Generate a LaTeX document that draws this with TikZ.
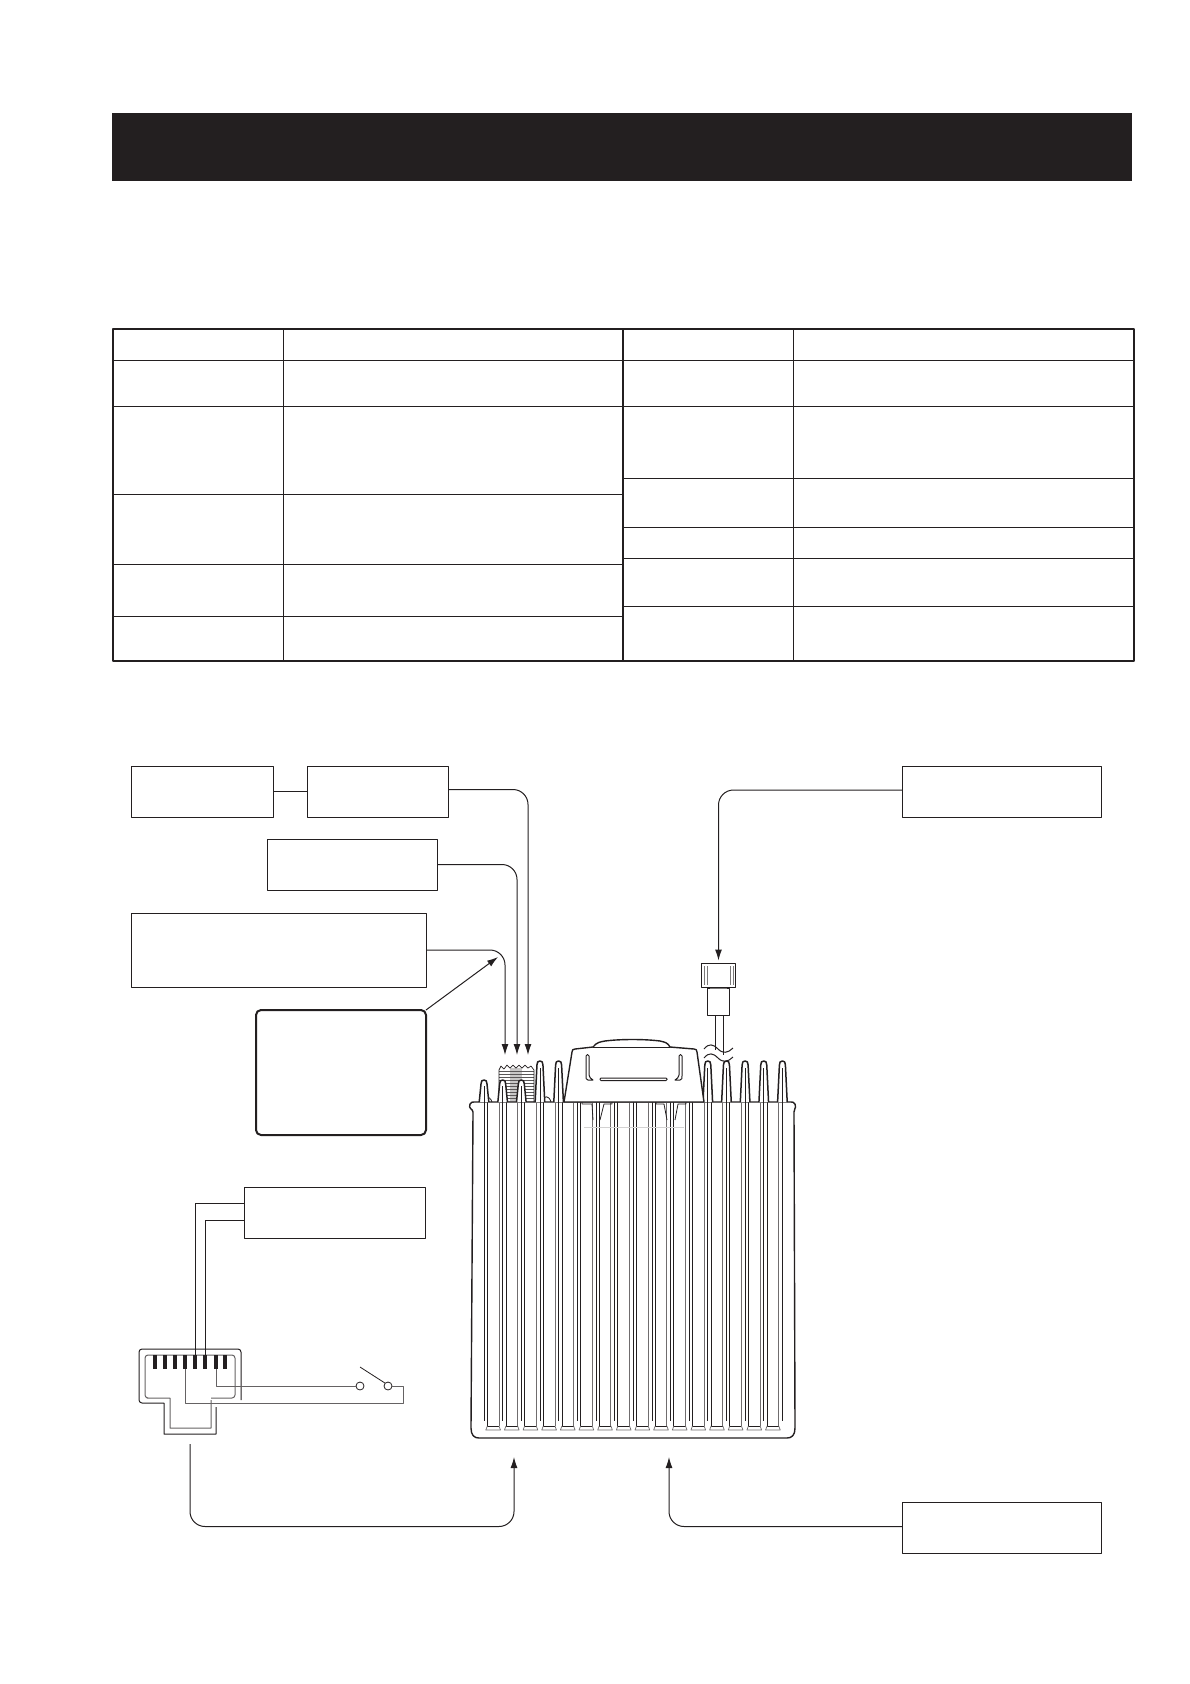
\documentclass[tikz,border=0pt]{standalone}
\usepackage{tikz}
\usetikzlibrary{arrows.meta}
\definecolor{ink}{HTML}{231F20}

\begin{document}
\begin{tikzpicture}[x=1pt,y=-1pt,line join=round]
\tikzstyle{every node}+=[inner sep=0pt,outer sep=0pt]
\tikzstyle{box}=[draw=ink,line width=1pt,minimum width=#1,fill=white]
\tikzstyle{wire}=[draw=ink,line width=1pt]
\tikzstyle{wirearrow}=[wire,-{Latex[length=11pt,width=7pt]},rounded corners=15pt]
\tikzstyle{greywire}=[draw=ink!70,line width=1pt]
\tikzstyle{pinbox}=[fill=ink,minimum width=4pt,minimum height=14pt]
\tikzstyle{swpin}=[circle,draw=ink,line width=0.8pt,fill=white,minimum size=8pt]
\tikzstyle{grid}=[draw=ink,line width=1pt]
\tikzstyle{shell}=[draw=ink,line width=1.4pt,fill=white]
\useasboundingbox (0,0) rectangle (1190,1684);

% heading bar
\fill [ink] (112,113) rectangle (1132,181);

% table
\draw [grid,line width=1.6pt] (113,329) rectangle (1134,661);
\draw [grid] (283,329) -- (283,661);
\draw [grid,line width=1.4pt] (623,329) -- (623,661);
\draw [grid] (793.5,329) -- (793.5,661);
\draw [grid] (113,360) -- (1134,360);
\draw [grid] (113,406) -- (1134,406);
\draw [grid] (113,494) -- (623,494);
\draw [grid] (113,564) -- (623,564);
\draw [grid] (113,616) -- (623,616);
\draw [grid] (623,478) -- (1134,478);
\draw [grid] (623,527) -- (1134,527);
\draw [grid] (623,558) -- (1134,558);
\draw [grid] (623,606) -- (1134,606);

% boxes round the set
\node [box=142pt,minimum height=51pt] (boxa) at (202,791.5) {};
\node [box=141pt,minimum height=51pt] (boxb) at (377.5,791.5) {};
\node [box=170pt,minimum height=51pt] (boxc) at (352,864.5) {};
\node [box=295pt,minimum height=74pt] (boxd) at (278.5,950) {};
\node [box=170pt,minimum height=125pt,line width=2pt,rounded corners=5pt] (boxe) at (341,1072.5) {};
\node [box=181pt,minimum height=51pt] (boxh) at (334.5,1212.5) {};
\node [box=199pt,minimum height=51pt] (boxf) at (1002,791.5) {};
\node [box=199pt,minimum height=51pt] (boxg) at (1002,1527.5) {};

% set body
\draw [shell] (473,1112) .. controls (473,1109) and (468,1109) .. (470,1104) .. controls (471,1102) and (472,1102) .. (476,1102) -- (789,1102)
  .. controls (793,1102) and (794,1102) .. (795,1104) .. controls (797,1109) and (793,1109) .. (794,1112) -- (795,1428)
  .. controls (795,1435) and (792,1438) .. (787,1438) -- (479,1438)
  .. controls (474,1438) and (471,1435) .. (471,1428) -- cycle;

% antenna socket
\fill [ink!25] (510,1068) rectangle (522,1102);
\foreach \y in {1071,1074,...,1101}
  \draw [ink!75,line width=0.7pt] (499,\y) -- (534,\y);
\draw [ink,line width=0.7pt] (499,1102) -- (499,1070) -- (501,1066) -- (504,1069) -- (507,1065) -- (510,1068)
  -- (513,1065) -- (516,1068) -- (519,1065) -- (522,1068) -- (525,1065) -- (528,1068) -- (531,1066) -- (534,1070) -- (534,1102);
\draw [ink,line width=0.8pt] (479,1102) .. controls (482,1095) and (490,1095) .. (492,1102);
\draw [ink,line width=0.8pt] (541,1102) .. controls (544,1095) and (549,1095) .. (551,1102);

% slots between the fins
\foreach \n in {0,...,15} {
  \pgfmathsetmacro{\slotx}{484+18.65*\n}
  \draw [ink,line width=0.8pt] ({\slotx+3.3},1102) -- ({\slotx+3.3},1426) -- ({\slotx+15},1426);
  \draw [ink!65,line width=0.9pt] ({\slotx+15},1102) -- ({\slotx+15},1426);
  \draw [ink!65,line width=0.7pt] ({\slotx+3.3},1426) -- ({\slotx+1.8},1430) -- ({\slotx+16.5},1430) -- ({\slotx+15},1426);
}

% fins on the top edge
\foreach \n/\fintop in {0/1080,1/1080,2/1080,3/1061,4/1061,12/1061,13/1061,14/1061,15/1061,16/1061} {
  \pgfmathsetmacro{\finx}{484+18.65*\n}
  \filldraw [draw=ink,fill=white,line width=1.5pt] ({\finx-4.8},1102) -- ({\finx-3},\fintop+4) .. controls ({\finx-3},\fintop+1) and ({\finx-2},\fintop) .. (\finx,\fintop)
    .. controls ({\finx+2},\fintop) and ({\finx+3},\fintop+1) .. ({\finx+3},\fintop+4) -- ({\finx+4.8},1102);
}
\foreach \n in {0,...,16} {
  \pgfmathsetmacro{\finx}{484+18.65*\n}
  \draw [ink,line width=0.7pt] (\finx,1102) -- (\finx,1421);
}
\foreach \n/\fintop in {0/1086,1/1086,2/1086,3/1068,4/1068,12/1068,13/1068,14/1068,15/1068,16/1068} {
  \pgfmathsetmacro{\finx}{484+18.65*\n}
  \draw [ink,line width=0.7pt] (\finx,\fintop) -- (\finx,1102);
}

% cover on top
\filldraw [shell] (564,1102) -- (572,1052) .. controls (572,1050) and (573,1049) .. (575,1049) -- (593,1047)
  .. controls (597,1042) and (600,1042) .. (605,1041) .. controls (620,1039) and (645,1039) .. (660,1041)
  .. controls (665,1042) and (668,1043) .. (670,1047) -- (694,1049) .. controls (696,1049) and (697,1050) .. (697,1052)
  -- (704,1102) -- cycle;
\draw [ink,line width=0.8pt] (593,1047) -- (670,1047);
\draw [ink,line width=1pt] (586,1056) .. controls (586,1054) and (589,1054) .. (589,1056) -- (589,1075)
  .. controls (589,1078) and (591,1078) .. (593,1080) -- (588,1080) .. controls (586,1080) and (586,1078) .. (586,1076) -- cycle;
\draw [ink,line width=1pt] (682,1056) .. controls (682,1054) and (679,1054) .. (679,1056) -- (679,1075)
  .. controls (679,1078) and (677,1078) .. (675,1080) -- (680,1080) .. controls (682,1080) and (682,1078) .. (682,1076) -- cycle;
\draw [ink,line width=1pt,rounded corners=1pt] (600,1078) rectangle (667,1080.5);

% recesses under the cover
\draw [ink,line width=0.8pt] (582,1104) -- (592,1104) -- (593,1120) (582,1104) -- (582,1102);
\draw [ink,line width=0.8pt] (612,1104) -- (604,1104) -- (600,1120) (612,1104) -- (612,1102);
\draw [ink,line width=0.8pt] (656,1104) -- (664,1104) -- (667,1120) (656,1104) -- (656,1102);
\draw [ink,line width=0.8pt] (686,1104) -- (678,1104) -- (675,1120) (686,1104) -- (686,1102);
\draw [ink!20,line width=0.8pt] (584,1127) -- (684,1127);

% plug and cable
\node [box=34pt,minimum height=24pt] (plughead) at (718.5,975.5) {};
\node [box=22pt,minimum height=27pt] (plugbody) at (718.5,1002) {};
\draw [ink!60,line width=0.8pt] (704,966) -- (704,985);
\draw [ink!60,line width=0.8pt] (707,966) -- (707,985);
\draw [ink!60,line width=0.8pt] (730,966) -- (730,985);
\draw [ink!60,line width=0.8pt] (733,966) -- (733,985);
\draw [ink!60,line width=0.8pt] (710,988.5) -- (727,988.5);
\coordinate (cablel) at (715,1050);
\coordinate (cabler) at (723,1055);
\draw [wire] (plugbody.south -| cablel) -- (cablel);
\draw [wire] (plugbody.south -| cabler) -- (cabler);
\draw [wire] (704,1049) .. controls (709,1043) and (713,1044) .. (718,1049) .. controls (723,1054) and (728,1053) .. (733,1048);
\draw [wire] (704,1058) .. controls (709,1052) and (713,1053) .. (718,1058) .. controls (723,1063) and (728,1062) .. (733,1057);

% arrows to the set
\coordinate (tipb) at (528,1055);
\coordinate (tipc) at (517,1055);
\coordinate (tipd) at (505,1055);
\coordinate (tipe) at (498,957);
\coordinate (tipl) at (514,1457);
\coordinate (tipg) at (669,1457);
\coordinate (codefree) at (190,1444);
\draw [wire] (boxa) -- (boxb);
\draw [wirearrow] ([yshift=2pt]boxb.east) -- ([yshift=2pt]tipb |- boxb.east) -- (tipb);
\draw [wirearrow] (boxc.east) -- (tipc |- boxc.east) -- (tipc);
\draw [wirearrow] (boxd.east) -- (tipd |- boxd.east) -- (tipd);
\draw [wire,-{Latex[length=11pt,width=7pt]}] (boxe.north east) -- (tipe);
\draw [wirearrow,shorten >=3pt] ([yshift=1.5pt]boxf.west) -- ([yshift=1.5pt]plughead.north |- boxf.west) -- (plughead.north);
\draw [wirearrow] ([yshift=1pt]boxg.west) -- ([yshift=1pt]tipg |- boxg.west) -- (tipg);
\draw [wirearrow] (codefree) -- (codefree |- 0,1526.5) -- (tipl |- 0,1526.5) -- (tipl);

% microphone connector
\draw [wire] (216,1407) -- (216,1434) -- (164,1434) -- (164,1403) [rounded corners=3pt] -- (139,1403) -- (139,1349) -- (241,1349) -- (241,1400);
\draw [greywire] (211,1400) [sharp corners] -- (211,1428) -- (170,1428) -- (170,1398) -- (147,1398) [rounded corners=3pt] -- (145,1398) -- (145,1355) -- (235,1355) -- (235,1398) -- (211,1398);
\foreach \n/\x in {1/155,2/165,3/175,4/185,5/195,6/205,7/216,8/225}
  \node [pinbox] (pin\n) at (\x,1362) {};

% wires out of the connector
\node [swpin] (swa) at (360,1386) {};
\node [swpin] (swb) at (388,1386) {};
\coordinate (swarm) at (360,1367);
\coordinate (swret) at (403,1403);
\draw [wire] ([yshift=9pt]boxh.west) -| (pin5.north);
\draw [wire] ([yshift=-8pt]boxh.west) -| (pin6.north);
\draw [greywire] (pin7.south) |- (swa.west);
\draw [greywire] (pin4.south) |- (swret) |- (swb.east);
\draw [wire,line width=0.8pt] (swarm) -- (swb.north west);
\end{tikzpicture}
\end{document}
